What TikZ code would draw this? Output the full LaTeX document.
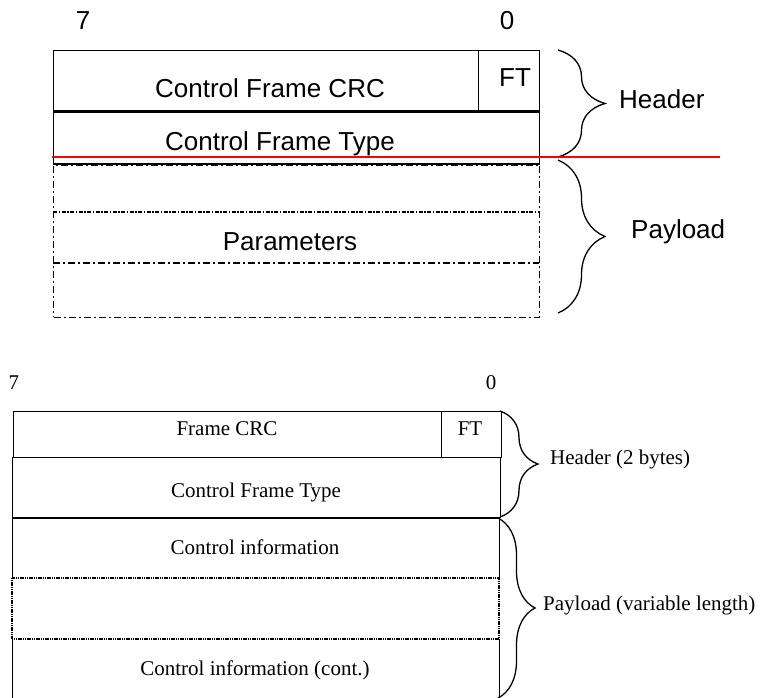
\documentclass[tikz,border=0pt]{standalone}
\usepackage{fontspec}
\setmainfont{Liberation Serif}
\setsansfont{Liberation Sans}
\usetikzlibrary{decorations.pathreplacing}
\tikzset{
    RA1/.style ={rectangle, draw, line width=1.3pt, inner sep=0pt, anchor=north west},
    RA2/.style ={rectangle, draw, line width=1pt, inner sep=0pt, anchor=north west},
    TA/.style ={font=\sffamily\fontsize{26}{30}\selectfont, inner sep=0pt, anchor=base},
    TB/.style ={font=\rmfamily\fontsize{21}{25}\selectfont, inner sep=0pt, anchor=base},
    DD1/.style ={line width=1.4pt, dash pattern=on 7pt off 3pt on 2pt off 3pt},
    DD2/.style ={line width=1.2pt, dash pattern=on 4pt off 1.5pt on 1.5pt off 1.5pt},
    DT/.style ={line width=1.1pt, dash pattern=on 1.2pt off 0.6pt},
    BR/.style ={decorate, decoration={brace, amplitude=#1}, line width=1.3pt}}

\begin{document}
\begin{tikzpicture}[x=1pt, y=-1pt]
        \useasboundingbox (0,0) rectangle (761,697);
        % upper format
        \node[TA] (hi1) at (83,29) {7};
        \node[TA] (lo1) at (507,29) {0};
        \node[RA1, minimum width=486pt, minimum height=60pt] (row1) at (53,50) {};
        \node[RA1, minimum width=486pt, minimum height=52pt] (row2) at (row1.south west) {};
        \draw[line width=0.9pt] (478,50) -- (478,110);
        \node[rectangle, draw, DD1, inner sep=0pt, anchor=north west,
              minimum width=486pt, minimum height=152pt] (pay1) at (row2.south west) {};
        \draw[DD2] (53,212) -- (539,212);
        \draw[DD1] (53,263) -- (539,263);
        \node[TA] (crc1) at (270,97) {Control Frame CRC};
        \node[TA] (ft1) at (515,86) {FT};
        \node[TA] (typ1) at (280,150) {Control Frame Type};
        \node[TA] (par1) at (290,250) {Parameters};
        \draw[BR=47] (558,50) -- (558,157);
        \draw[BR=47] (558,160) -- (558,313);
        \node[TA, anchor=base west] (hdr1) at (619,108) {Header};
        \node[TA, anchor=base west] (pld1) at (631,238) {Payload};
        \draw[red, line width=1.5pt] (52,157) -- (720,157);
        % lower format
        \node[TB] (hi2) at (14,389) {7};
        \node[TB] (lo2) at (491,389) {0};
        \node[RA2, minimum width=488pt, minimum height=46pt] (row3) at (13,411) {};
        \draw (441,411) -- (441,457);
        \node[RA2, minimum width=488pt, minimum height=60pt] (row4) at (12,457) {};
        \draw[line width=1pt] (12,578) |- (499,518) -- (499,578);
        \draw[DT] (12,578) rectangle (499,639);
        \draw[line width=1pt] (12,710) -- (12,639) (499,639) -- (499,710);
        \node[TB] (crc2) at (227,435) {Frame CRC};
        \node[TB] (ft2) at (470,435) {FT};
        \node[TB] (typ2) at (256,497) {Control Frame Type};
        \node[TB] (inf2) at (255,554) {Control information};
        \node[TB] (cnt2) at (255,675) {Control information (cont.)};
        \draw[BR=38] (500,411) -- (500,517);
        \draw[BR=37] (498,518) -- (498,698);
        \node[TB, anchor=base west] (hdr2) at (550,464) {Header (2 bytes)};
        \node[TB, anchor=base west] (pld2) at (543,610) {Payload (variable length)};
    \end{tikzpicture}
\end{document}
